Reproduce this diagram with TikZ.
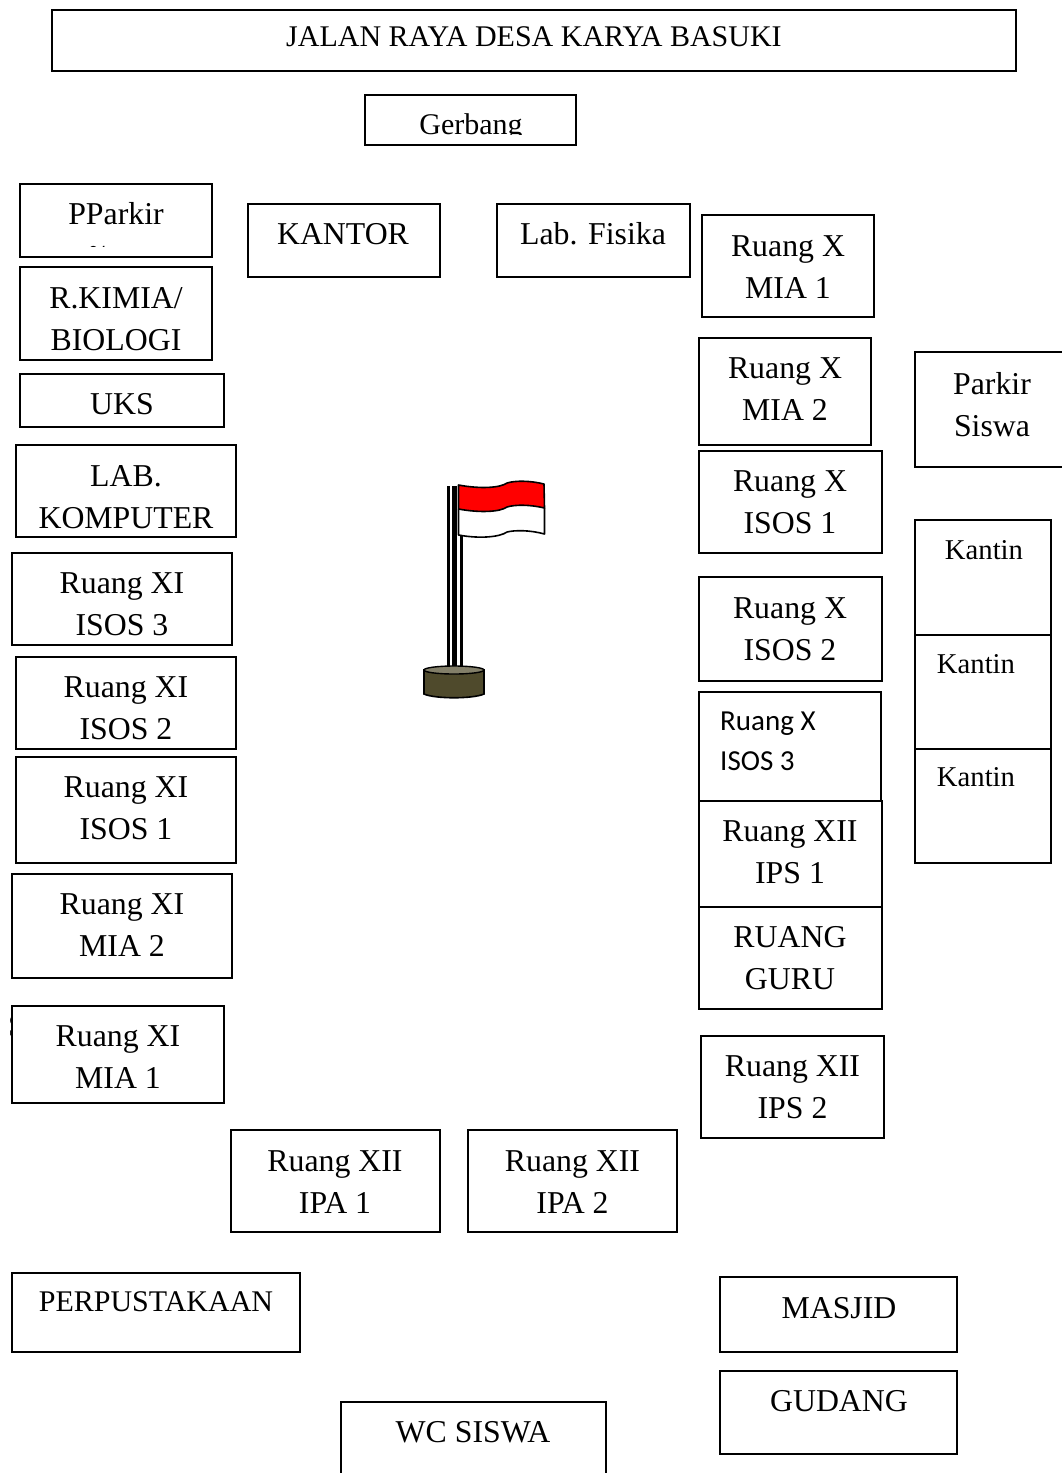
\documentclass[tikz,border=0pt]{standalone}
\usepackage{fontspec}
\setmainfont{Liberation Serif}
\newfontfamily\calfont{Carlito}
\definecolor{basecol}{HTML}{4F4A2C}
\definecolor{basetop}{HTML}{837F69}
\tikzset{
 boxnode/.style={draw=black,line width=1.3pt,fill=white,inner sep=0pt,outer sep=0pt,anchor=north west},
 lbl/.style={inner sep=0pt,outer sep=0pt,align=center,yshift=-1pt,font=\fontsize{31.8}{42}\selectfont},
 lblwide/.style={inner sep=0pt,outer sep=0pt,align=center,yshift=-1pt,font=\fontsize{30}{42}\selectfont},
 lblsmall/.style={inner sep=0pt,outer sep=0pt,align=center,yshift=-1pt,font=\fontsize{28.7}{40}\selectfont},
 polethin/.style={line width=3pt,draw=black},
 flagedge/.style={line width=1.6pt,draw=black,line join=round},
}
% name, x1, y1, x2, y2
\newcommand{\roombox}[5]{\pgfmathsetmacro{\rw}{#4-#2}\pgfmathsetmacro{\rh}{#5-#3}
 \node[boxnode,minimum width=\rw pt,minimum height=\rh pt] (#1) at (#2,#3) {};}
\begin{document}
\begin{tikzpicture}[x=1pt,y=-1pt]
\useasboundingbox (0,0) rectangle (1061,1473);
\fill[white] (0,0) rectangle (1061,1473);
% sliver of a letter showing left of the box
\begin{scope}
\clip (0,1000) rectangle (11,1050);
\node[lbl] (sliver) at (17,1025) {S};
\end{scope}
\roombox{jalan}{52}{10}{1016}{71}
\node[lblwide] (tjalan) at (534,36) {JALAN RAYA DESA KARYA BASUKI};
\roombox{gerbang}{365}{95}{576}{145}
\begin{scope}
\clip (366,96) rectangle (575,134);
\node[lblwide,anchor=base] (tgerbang) at (471,133) {Gerbang};
\end{scope}
\roombox{pparkir}{20}{184}{212}{257}
\node[lbl,anchor=base] (tpparkir) at (116,223) {PParkir};
\begin{scope}
\clip (21,185) rectangle (211,246);
\node[lbl,anchor=base] (ttilde) at (97,258) {\textasciitilde};
\end{scope}
\roombox{kimia}{20}{267}{212}{360}
\node[lbl] (tkimia) at (116,318) {R.KIMIA/\\BIOLOGI};
\roombox{uks}{20}{374}{224}{427}
\node[lbl] (tuks) at (122,403) {UKS};
\roombox{komputer}{16}{445}{236}{537}
\node[lbl] (tkomputer) at (126,496) {LAB.\\KOMPUTER};
\roombox{xiisostiga}{12}{553}{232}{645}
\node[lbl] (txiisostiga) at (122,603) {Ruang XI\\ISOS 3};
\roombox{xiisosdua}{16}{657}{236}{749}
\node[lbl] (txiisosdua) at (126,707) {Ruang XI\\ISOS 2};
\roombox{xiisossatu}{16}{757}{236}{863}
\node[lbl] (txiisossatu) at (126,807) {Ruang XI\\ISOS 1};
\roombox{ximiadua}{12}{874}{232}{978}
\node[lbl] (tximiadua) at (122,924) {Ruang XI\\MIA 2};
\roombox{ximiasatu}{12}{1006}{224}{1103}
\node[lbl] (tximiasatu) at (118,1056) {Ruang XI\\MIA 1};
\roombox{kantor}{248}{204}{440}{277}
\node[lbl] (tkantor) at (343,233) {KANTOR};
\roombox{fisika}{497}{204}{690}{277}
\node[lbl] (tfisika) at (593,233) {Lab. Fisika};
\roombox{xmiasatu}{702}{215}{874}{317}
\node[lbl] (txmiasatu) at (788,266) {Ruang X\\MIA 1};
\roombox{xmiadua}{699}{338}{871}{445}
\node[lbl] (txmiadua) at (785,388.5) {Ruang X\\MIA 2};
\roombox{xisossatu}{699}{451}{882}{553}
\node[lbl] (txisossatu) at (790,501.5) {Ruang X\\ISOS 1};
\roombox{xisosdua}{699}{577}{882}{681}
\node[lbl] (txisosdua) at (790,628) {Ruang X\\ISOS 2};
\roombox{xisostiga}{699}{692}{881}{801}
\node[inner sep=0pt,align=left,anchor=west,font=\calfont\fontsize{29}{40}\selectfont] (txisostiga) at (720,741.5) {Ruang X\\ISOS 3};
\roombox{xiiipssatu}{699}{801}{882}{907}
\node[lbl] (txiiipssatu) at (790,851) {Ruang XII\\IPS 1};
\roombox{guru}{699}{907}{882}{1009}
\node[lbl] (tguru) at (790,957.5) {RUANG\\GURU};
\roombox{xiiipsdua}{701}{1036}{884}{1138}
\node[lbl] (txiiipsdua) at (792.5,1086.5) {Ruang XII\\IPS 2};
\roombox{siswa}{915}{352}{1070}{467}
\node[lbl] (tsiswa) at (992,403.5) {Parkir\\Siswa};
\roombox{kantinsatu}{915}{520}{1051}{635}
\node[lblsmall] (tkantinsatu) at (984,549) {Kantin};
\roombox{kantindua}{915}{635}{1051}{749}
\node[lblsmall] (tkantindua) at (976,663) {Kantin};
\roombox{kantintiga}{915}{749}{1051}{863}
\node[lblsmall] (tkantintiga) at (976,776) {Kantin};
\roombox{xiiipasatu}{231}{1130}{440}{1232}
\node[lbl] (txiiipasatu) at (335,1181) {Ruang XII\\IPA 1};
\roombox{xiiipadua}{468}{1130}{677}{1232}
\node[lbl] (txiiipadua) at (572.5,1181) {Ruang XII\\IPA 2};
\roombox{perpus}{12}{1273}{300}{1352}
\node[lblwide] (tperpus) at (156,1301) {PERPUSTAKAAN};
\roombox{masjid}{720}{1277}{957}{1352}
\node[lbl] (tmasjid) at (839,1307) {MASJID};
\roombox{gudang}{720}{1371}{957}{1454}
\node[lbl] (tgudang) at (839,1400) {GUDANG};
\roombox{wc}{341}{1402}{606}{1490}
\node[lbl] (twc) at (473,1431) {WC SISWA};
% flag
\draw[polethin] (448.5,486) -- (448.5,667);
\draw[line width=5pt] (454.5,486) -- (454.5,667);
\draw[polethin] (461,486) -- (461,667);
\path[fill=white] (458.5,509) -- (544.5,508) -- (544.5,534) .. controls (530,530) and (515,530) .. (507,532) .. controls (500,537) and (480,539) .. (458.5,535) -- cycle;
\draw[flagedge] (458.5,509) -- (458.5,535) .. controls (480,539) and (500,537) .. (507,532) .. controls (515,530) and (530,530) .. (544.5,534) -- (544.5,508);
\path[fill=red] (458.5,485) .. controls (480,489) and (500,488) .. (507,483) .. controls (515,480.5) and (530,480.5) .. (544,484) -- (544.5,508) .. controls (530,504.5) and (515,504.5) .. (507,507) .. controls (500,512) and (480,513) .. (458.5,509) -- cycle;
\draw[flagedge] (458.5,485) .. controls (480,489) and (500,488) .. (507,483) .. controls (515,480.5) and (530,480.5) .. (544,484) -- (544.5,508) .. controls (530,504.5) and (515,504.5) .. (507,507) .. controls (500,512) and (480,513) .. (458.5,509) -- cycle;
% base
\draw[fill=basecol,line width=1.6pt] (424,670) -- (424,694) .. controls (435,699) and (473,699) .. (484,694) -- (484,670) -- cycle;
\draw[fill=basetop,line width=1.4pt] (454,670) ellipse [x radius=30,y radius=4];
\end{tikzpicture}
\end{document}
